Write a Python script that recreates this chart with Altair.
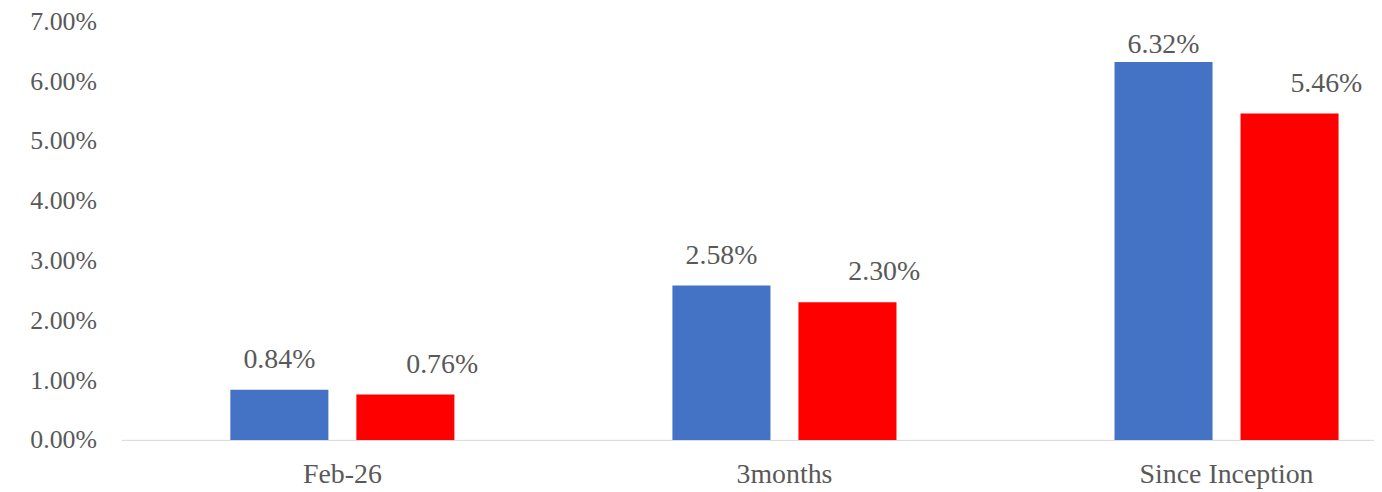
import altair as alt
import pandas as pd

categories = ["Feb-26", "3months", "Since Inception"]
series = ["Series 1", "Series 2"]
series1_values = [0.0084, 0.0258, 0.0632]
series2_values = [0.0076, 0.0230, 0.0546]
y_ticks = [0, 0.01, 0.02, 0.03, 0.04, 0.05, 0.06, 0.07]
colors = ["#4472C4", "#FF0000"]

rows = []
for c, v1, v2 in zip(categories, series1_values, series2_values):
    rows.append({"cat": c, "series": series[0], "value": v1})
    rows.append({"cat": c, "series": series[1], "value": v2})
df = pd.DataFrame(rows)

FONT = "Liberation Serif"
TXT = "#595959"

x_enc = alt.X("cat:N", sort=categories,
              scale=alt.Scale(range=[0, 1334], paddingInner=0, paddingOuter=0),
              axis=alt.Axis(title=None, labelAngle=0, labelFont=FONT, labelFontSize=28,
                            labelColor=TXT, ticks=False, domainColor="#D9D9D9",
                            labelPadding=35, labelBaseline="middle", grid=False))
xo_enc = alt.XOffset("series:N", sort=series,
                     scale=alt.Scale(paddingInner=0.222, paddingOuter=0.865))
y_scale = alt.Scale(domain=[0, 0.07], nice=False)
y_axis = alt.Axis(title=None, format=".2%", values=y_ticks, labelFont=FONT,
                  labelFontSize=26, labelColor=TXT, ticks=False, domain=False,
                  grid=False, labelPadding=25)
y_enc = alt.Y("value:Q", scale=y_scale, axis=y_axis)
# labels are kept inside the plot area (as the spreadsheet does)
ylab_enc = alt.Y("labpos:Q", scale=y_scale, axis=y_axis)

base = alt.Chart(df)

bars = base.mark_bar().encode(
    x=x_enc, xOffset=xo_enc, y=y_enc,
    color=alt.Color("series:N", sort=series,
                    scale=alt.Scale(domain=series, range=colors), legend=None),
)

lab1 = base.transform_filter(alt.datum.series == series[0]).transform_calculate(
    labpos="min(datum.value, 0.061)"
).mark_text(
    font=FONT, fontSize=28, color=TXT, baseline="middle", dy=-30
).encode(x=x_enc, xOffset=xo_enc, y=ylab_enc, text=alt.Text("value:Q", format=".2%"))

lab2 = base.transform_filter(alt.datum.series == series[1]).transform_calculate(
    labpos="min(datum.value, 0.061)"
).mark_text(
    font=FONT, fontSize=28, color=TXT, baseline="middle", dy=-30, dx=37
).encode(x=x_enc, xOffset=xo_enc, y=ylab_enc, text=alt.Text("value:Q", format=".2%"))

chart = alt.layer(bars, lab1, lab2).properties(
    width=1260, height=421,
    background="white",
    autosize=alt.AutoSizeParams(type="none"),
    padding={"left": 114, "top": 12, "right": 0, "bottom": 51},
).configure_view(stroke=None)

chart.save("out.html", embed_options={"renderer": "svg", "actions": False})
